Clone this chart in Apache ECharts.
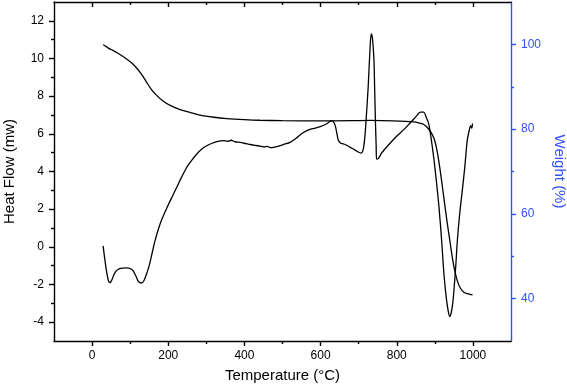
<!DOCTYPE html>
<html>
<head>
<meta charset="utf-8">
<script src="https://cdn.jsdelivr.net/npm/echarts@6/dist/echarts.min.js"></script>
<style>
html,body{margin:0;padding:0;background:#fff;}
#c{width:567px;height:392px;}
</style>
</head>
<body>
<div id="c"></div>
<script>
// Heat flow (DSC) curve
var hfTemp = [29,33,38,43,47,52,58,65,75,90,100,108,115,122,130,136,142,150,158,165,175,183,196,210,222,235,248,262,275,288,301,315,330,345,355,365,375,389,400,410,420,430,441,452,460,468,476,490,505,520,535,550,564,580,599,615,630,635,639,643,647,653,661,670,678,690,700,706,710,713,717,720,725,730,733,736,740,742,744,746,747,752,761,780,801,820,836,850,862,871,877,884,890,897,904,911,918,924,930,935,939,943,947,950,955,959,965,972,979,985,990,994,997,999];
var heatFlow = [0.05,-0.6,-1.3,-1.8,-1.9,-1.75,-1.45,-1.25,-1.15,-1.12,-1.15,-1.28,-1.55,-1.85,-1.92,-1.8,-1.5,-1.0,-0.3,0.3,1.0,1.45,2.05,2.65,3.15,3.7,4.2,4.6,4.93,5.2,5.37,5.5,5.6,5.64,5.6,5.66,5.58,5.55,5.5,5.45,5.42,5.38,5.35,5.3,5.33,5.27,5.28,5.35,5.45,5.55,5.75,6.0,6.17,6.28,6.38,6.52,6.7,6.6,6.4,6.0,5.64,5.5,5.46,5.38,5.28,5.15,5.02,4.98,5.05,5.28,6.0,6.88,8.5,10.6,11.3,11.1,10.0,8.4,6.7,5.3,4.66,4.7,5.0,5.45,5.9,6.25,6.6,6.9,7.15,7.15,6.9,6.53,5.8,4.75,3.5,2.08,0.3,-1.47,-2.7,-3.4,-3.7,-3.5,-3.0,-2.36,-1.0,0.3,1.7,2.97,4.3,5.64,6.15,6.44,6.3,6.55];
// Weight (TGA) curve
var wTemp = [29,35,45,55,68,85,104,118,130,143,156,170,187,205,231,255,283,320,354,400,441,500,590,680,731,790,845,860,871,882,893,900,906,912,919,926,933,940,946,952,959,967,976,988,999];
var weight = [99.9,99.6,99.0,98.6,97.9,96.9,95.6,94.3,92.9,91.1,89.3,87.9,86.6,85.6,84.6,84.0,83.3,82.8,82.5,82.25,82.1,82.0,81.95,82.0,82.05,81.95,81.7,81.4,81.1,80.2,78.75,77.2,74.8,71.5,67.0,62.2,57.6,53.3,49.7,46.7,44.2,42.5,41.5,41.1,40.9];
// Ticks
var xMajor = [0,200,400,600,800,1000];
var xMinor = [100,300,500,700,900];
var hfMajor = [-4,-2,0,2,4,6,8,10,12];
var hfMinor = [-3,-1,1,3,5,7,9,11];
var wMajor = [40,60,80,100];
var wMinor = [50,70,90];

var BLUE = '#3050ff';
var FONT = 'Arial, "Liberation Sans", sans-serif';
var LW = 1.4;

function pairs(a, b){ return a.map(function(v,i){ return [v, b[i]]; }); }
function fmt(v){ return String(v); }

function xAx(pos, ticks, len, inside, line, labels, name){
  return {
    type:'value', position:pos, min:-100, max:1100, interval:100,
    name: name || '', nameLocation:'middle', nameGap:27,
    nameTextStyle:{color:'#000', fontSize:15, fontFamily:FONT},
    axisLine:{show:line, onZero:false, lineStyle:{color:'#000', width:LW}},
    axisTick:{show:true, inside:inside, length:len, customValues:ticks, lineStyle:{color:'#000', width:LW}},
    axisLabel:{show:labels, customValues:xMajor, formatter:fmt, margin:9, color:'#000', fontSize:12, fontFamily:FONT},
    splitLine:{show:false}
  };
}
function yAx(pos, min, max, ticks, len, line, labels, color, lblVals, name, rot, gap){
  return {
    type:'value', position:pos, min:min, max:max,
    name: name || '', nameLocation:'middle', nameGap:gap || 0, nameRotate:rot || 0,
    nameTextStyle:{color:color, fontSize:15, fontFamily:FONT},
    axisLine:{show:line, onZero:false, lineStyle:{color:color, width:LW}},
    axisTick:{show:true, inside:false, length:len, customValues:ticks, lineStyle:{color:color, width:LW}},
    axisLabel:{show:labels, customValues:lblVals, formatter:fmt, margin:10, color:color, fontSize:12, fontFamily:FONT},
    splitLine:{show:false}
  };
}

var chart = echarts.init(document.getElementById('c'), null, {renderer:'canvas'});
chart.setOption({
  animation:false,
  backgroundColor:'#fff',
  grid:{left:54, right:56, top:2, bottom:51, containLabel:false, outerBoundsMode:'none'},
  xAxis:[
    xAx('bottom', xMajor, 5, false, true, true, 'Temperature (\u00b0C)'),
    xAx('bottom', xMinor, 3, false, false, false),
    xAx('top', xMajor, 5, true, true, false),
    xAx('top', xMinor, 3, true, false, false)
  ],
  yAxis:[
    yAx('left', -5, 13, hfMajor, 5, true, true, '#000', hfMajor, 'Heat Flow (mw)', 90, 37),
    yAx('left', -5, 13, hfMinor, 3, false, false, '#000', hfMajor),
    yAx('right', 30, 110, wMajor, 5, true, true, BLUE, wMajor, 'Weight (%)', -90, 41),
    yAx('right', 30, 110, wMinor, 3, false, false, BLUE, wMajor)
  ],
  series:[
    {type:'line', xAxisIndex:0, yAxisIndex:0, data:pairs(hfTemp, heatFlow), showSymbol:false, smooth:0.3,
     lineStyle:{color:'#000', width:1.3}},
    {type:'line', xAxisIndex:0, yAxisIndex:2, data:pairs(wTemp, weight), showSymbol:false, smooth:0.3,
     lineStyle:{color:'#000', width:1.3}}
  ]
});
</script>
</body>
</html>
